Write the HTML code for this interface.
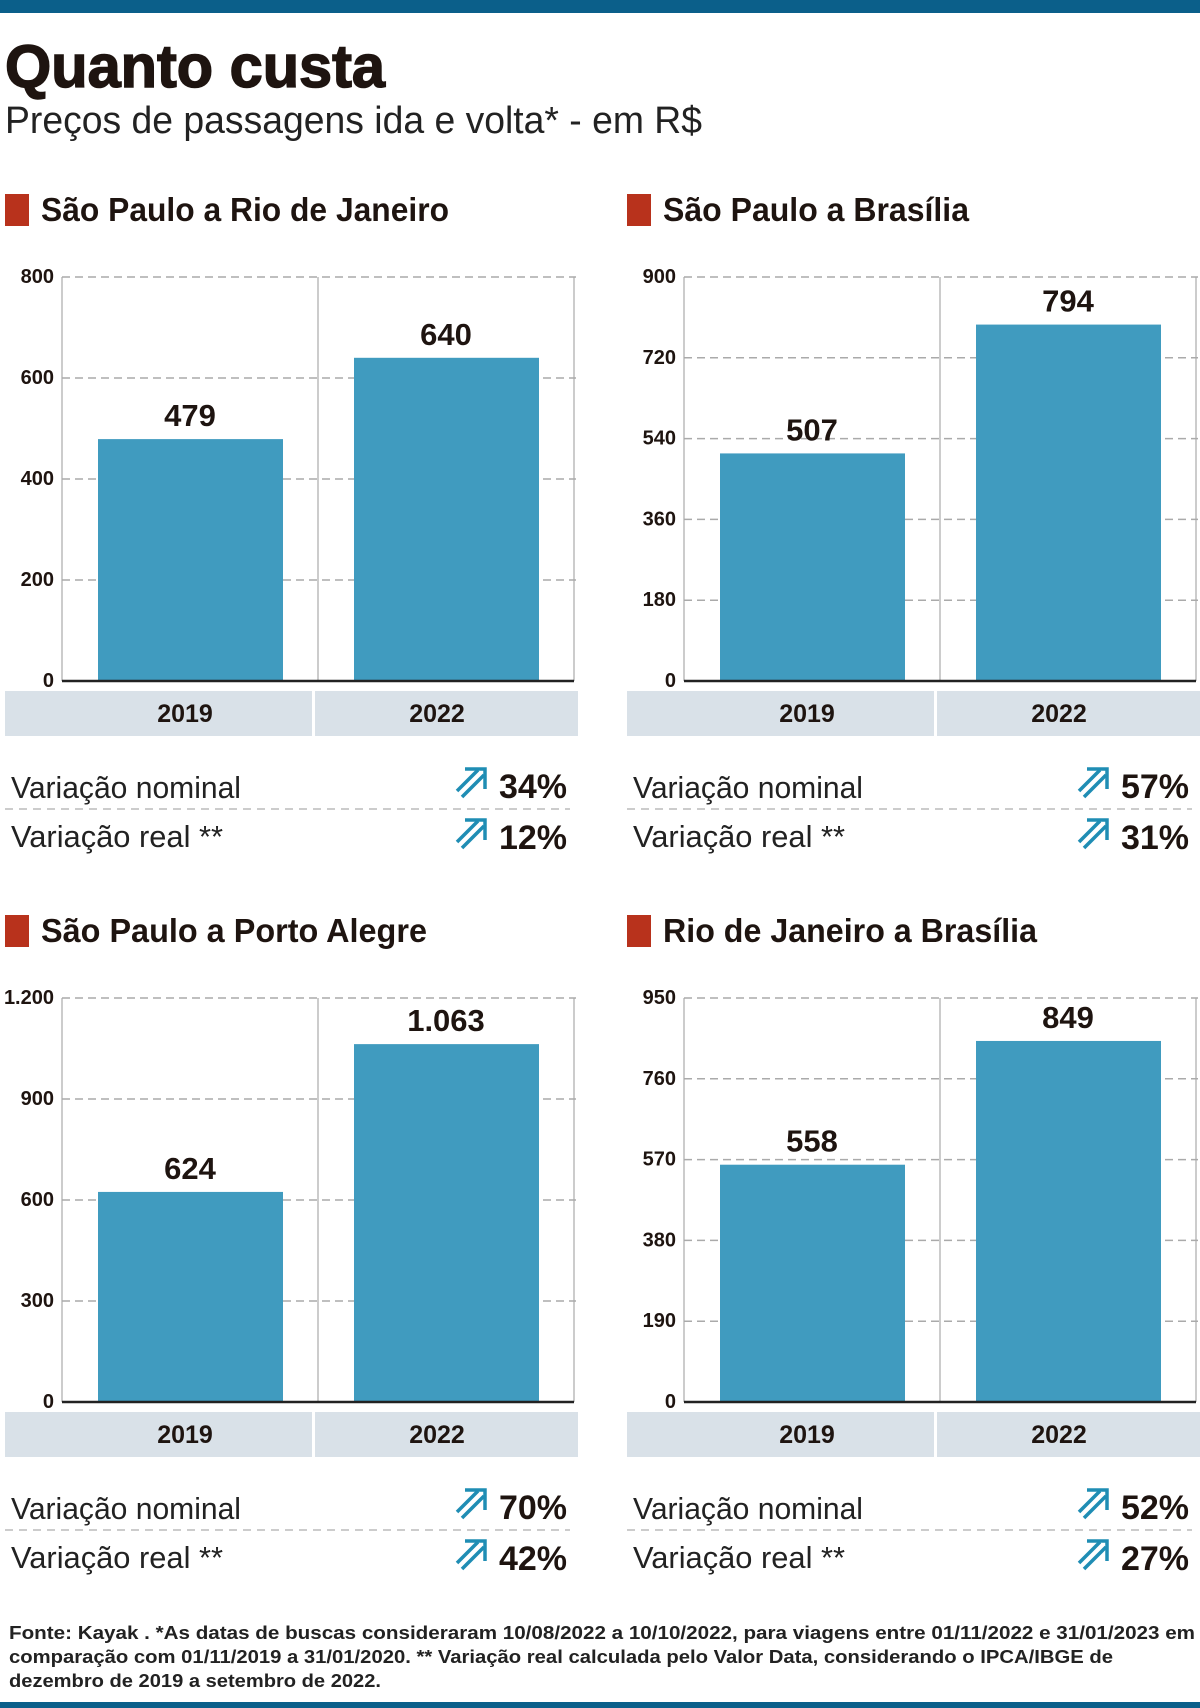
<!DOCTYPE html>
<html><head><meta charset="utf-8"><style>
html,body{margin:0;padding:0;background:#fff}
svg{display:block}
</style></head><body>
<svg id="s" width="1200" height="1708" viewBox="0 0 1200 1708" xmlns="http://www.w3.org/2000/svg" font-family="Liberation Sans, sans-serif">
<rect x="0" y="0" width="1200" height="13" fill="#0b5f8a"/>
<rect x="0" y="1702" width="1200" height="6" fill="#0b5f8a"/>
<text x="5" y="87" font-size="60" font-weight="bold" fill="#1e1410" stroke="#1e1410" stroke-width="1.5" textLength="380" lengthAdjust="spacingAndGlyphs">Quanto custa</text>
<text x="5" y="133" font-size="38" fill="#222" textLength="697" lengthAdjust="spacingAndGlyphs">Preços de passagens ida e volta* - em R$</text>
<g font-size="18" font-weight="bold" fill="#222">
<text x="9" y="1639" textLength="1186" lengthAdjust="spacingAndGlyphs">Fonte: Kayak . *As datas de buscas consideraram 10/08/2022 a 10/10/2022, para viagens entre 01/11/2022 e 31/01/2023 em</text>
<text x="9" y="1663" textLength="1104" lengthAdjust="spacingAndGlyphs">comparação com 01/11/2019 a 31/01/2020. ** Variação real calculada pelo Valor Data, considerando o IPCA/IBGE de</text>
<text x="9" y="1687" textLength="372" lengthAdjust="spacingAndGlyphs">dezembro de 2019 a setembro de 2022.</text>
</g>
<g id="p"></g>
</svg>
<script>
var g=document.getElementById("p"),h="";
function fmt(n){n=Math.round(n);return n>=1000?Math.floor(n/1000)+"."+String(n%1000).padStart(3,"0"):String(n);}
var panels=[
 {dx:0,dy:0,t:"São Paulo a Rio de Janeiro",tw:408,max:800,nt:4,v:[479,640],n:"34%",r:"12%"},
 {dx:622,dy:0,t:"São Paulo a Brasília",tw:306,max:900,nt:5,v:[507,794],n:"57%",r:"31%"},
 {dx:0,dy:721,t:"São Paulo a Porto Alegre",tw:386,max:1200,nt:4,v:[624,1063],n:"70%",r:"42%"},
 {dx:622,dy:721,t:"Rio de Janeiro a Brasília",tw:374,max:950,nt:5,v:[558,849],n:"52%",r:"27%"}];
panels.forEach(function(p){
 var X=p.dx,Y=p.dy,L=X+62,R=X+574,M=X+318,T=Y+277,B=Y+681,H=B-T;
 h+='<rect x="'+(X+5)+'" y="'+(Y+194)+'" width="24" height="32" fill="#b8321c"/>';
 h+='<text x="'+(X+41)+'" y="'+(Y+221)+'" font-size="33" font-weight="bold" fill="#1e1410" textLength="'+p.tw+'" lengthAdjust="spacingAndGlyphs">'+p.t+'</text>';
 h+='<line x1="'+L+'" y1="'+T+'" x2="'+L+'" y2="'+B+'" stroke="#bbb" stroke-width="1.5"/>';
 h+='<line x1="'+M+'" y1="'+T+'" x2="'+M+'" y2="'+B+'" stroke="#bbb" stroke-width="1.5"/>';
 h+='<line x1="'+R+'" y1="'+T+'" x2="'+R+'" y2="'+B+'" stroke="#bbb" stroke-width="1.5"/>';
 for(var i=0;i<=p.nt;i++){var y=B-H*i/p.nt,val=p.max*i/p.nt;
  if(i>0)h+='<line x1="'+L+'" y1="'+y+'" x2="'+(R+2)+'" y2="'+y+'" stroke="#aaa" stroke-width="1.5" stroke-dasharray="8,5"/>';
  h+='<text x="'+(X+54)+'" y="'+(y+6)+'" font-size="20" font-weight="bold" fill="#1e1410" text-anchor="end">'+fmt(val)+'</text>';}
 var bx=[X+98,X+354];
 p.v.forEach(function(v,k){var top=B-H*v/p.max;
  h+='<rect x="'+bx[k]+'" y="'+top+'" width="185" height="'+(B-top)+'" fill="#409bbf"/>';
  h+='<text x="'+(bx[k]+92)+'" y="'+(top-13)+'" font-size="31" font-weight="bold" fill="#1e1410" text-anchor="middle">'+fmt(v)+'</text>';});
 h+='<line x1="'+L+'" y1="'+B+'" x2="'+R+'" y2="'+B+'" stroke="#222" stroke-width="2.5"/>';
 h+='<rect x="'+(X+5)+'" y="'+(Y+691)+'" width="307" height="45" fill="#d9e1e8"/>';
 h+='<rect x="'+(X+315)+'" y="'+(Y+691)+'" width="263" height="45" fill="#d9e1e8"/>';
 h+='<text x="'+(X+185)+'" y="'+(Y+722)+'" font-size="25" font-weight="bold" fill="#1e1410" text-anchor="middle">2019</text>';
 h+='<text x="'+(X+437)+'" y="'+(Y+722)+'" font-size="25" font-weight="bold" fill="#1e1410" text-anchor="middle">2022</text>';
 h+='<text x="'+(X+11)+'" y="'+(Y+798)+'" font-size="31" fill="#222" textLength="230" lengthAdjust="spacingAndGlyphs">Variação nominal</text>';
 h+='<line x1="'+(X+5)+'" y1="'+(Y+809)+'" x2="'+(X+570)+'" y2="'+(Y+809)+'" stroke="#bbb" stroke-width="1.5" stroke-dasharray="8,6"/>';
 h+='<text x="'+(X+11)+'" y="'+(Y+847)+'" font-size="31" fill="#222" textLength="212" lengthAdjust="spacingAndGlyphs">Variação real **</text>';
 [[Y+798,p.n],[Y+849,p.r]].forEach(function(q){var by=q[0];
  h+='<text x="'+(X+567)+'" y="'+by+'" font-size="34" font-weight="bold" fill="#1e1410" text-anchor="end">'+q[1]+'</text>';
  var ax=X+457,ay=by-1;
  h+='<g stroke="#1f8db4" stroke-width="3.5" fill="none"><path d="M'+ax+' '+(ay-6)+' L'+(ax+21)+' '+(ay-27)+'"/><path d="M'+(ax+5)+' '+(ay)+' L'+(ax+27)+' '+(ay-22)+'"/><path d="M'+(ax+8)+' '+(ay-28)+' L'+(ax+28)+' '+(ay-28)+' L'+(ax+28)+' '+(ay-8)+'"/></g>';});
});
g.innerHTML=h;
</script>
</body></html>
